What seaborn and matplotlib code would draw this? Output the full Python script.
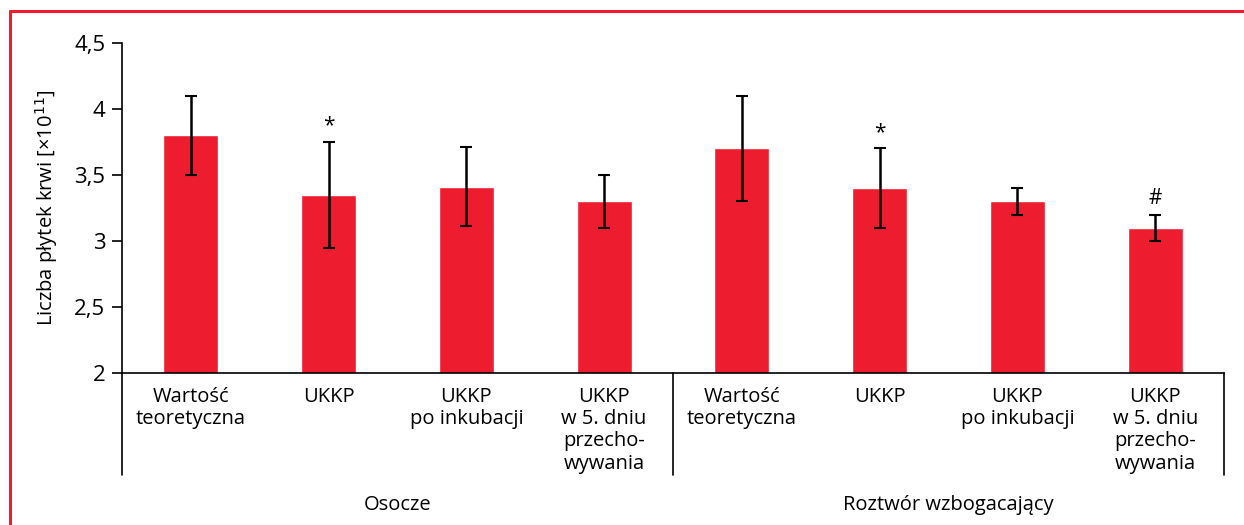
"""
Liczba płytek krwi w UKKP - wykres słupkowy z błędami, dwie grupy.
"""

import numpy as np
import pandas as pd
import matplotlib.pyplot as plt
import matplotlib.transforms as mtransforms
from matplotlib.lines import Line2D
import seaborn as sns

# Dane
etykiety = [
    "Wartość\nteoretyczna", "UKKP", "UKKP\npo inkubacji", "UKKP\nw 5. dniu\nprzecho-\nwywania",
    "Wartość\nteoretyczna", "UKKP", "UKKP\npo inkubacji", "UKKP\nw 5. dniu\nprzecho-\nwywania",
]
grupy = ["Osocze", "Roztwór wzbogacający"]
srednie = [3.80, 3.35, 3.41, 3.30, 3.70, 3.40, 3.30, 3.10]
odchylenia = [0.30, 0.40, 0.30, 0.20, 0.40, 0.30, 0.10, 0.10]
znaczniki = ["", "*", "", "", "", "*", "", "#"]
y_ticks = [2, 2.5, 3, 3.5, 4, 4.5]
y_tick_labels = ["2", "2,5", "3", "3,5", "4", "4,5"]

CZERWONY = "#ED1C2E"

sns.set_theme(style="white")
plt.rcParams["font.family"] = ["Open Sans", "DejaVu Sans"]
plt.rcParams["text.color"] = "black"
plt.rcParams["axes.labelcolor"] = "black"
plt.rcParams["xtick.color"] = "black"
plt.rcParams["ytick.color"] = "black"

df = pd.DataFrame({"poz": np.arange(len(srednie)), "srednia": srednie})

fig = plt.figure(figsize=(12.44, 5.25), dpi=100)
ax = fig.add_axes([0.098, 0.2895, 0.886, 0.629])

sns.barplot(data=df, x="poz", y="srednia", color=CZERWONY, saturation=1,
            width=0.4, errorbar=None, ax=ax)
ax.errorbar(df["poz"], df["srednia"], yerr=odchylenia, fmt="none",
            ecolor="black", elinewidth=1.8, capsize=4.5, capthick=1.5)

for i, m in enumerate(znaczniki):
    if m:
        ax.text(i, srednie[i] + odchylenia[i] + 0.04, m, ha="center", va="bottom",
                fontsize=15, color="black")

ax.set_ylim(2, 4.5)
ax.set_xlim(-0.5, len(srednie) - 0.5)
ax.set_yticks(y_ticks)
ax.set_yticklabels(y_tick_labels, fontsize=16)
ax.set_xticks(df["poz"])
ax.set_xticklabels(etykiety, fontsize=14.5, linespacing=1.15)
ax.tick_params(axis="y", left=True, length=7, width=1.2, color="black", pad=5)
ax.tick_params(axis="x", bottom=False, pad=4)
ax.set_xlabel("")
ax.set_ylabel("Liczba płytek krwi [×10$^{11}$]", fontsize=14.5, labelpad=10)

for s in ["top", "right"]:
    ax.spines[s].set_visible(False)
for s in ["left", "bottom"]:
    ax.spines[s].set_color("black")
    ax.spines[s].set_linewidth(1.2)

# linie oddzielające grupy pod osią X
tr = mtransforms.blended_transform_factory(ax.transData, ax.transAxes)
for x in [-0.5, 3.5, 7.5]:
    ax.add_line(Line2D([x, x], [0, -0.31], transform=tr, color="black",
                       lw=1.2, clip_on=False))
for k, g in enumerate(grupy):
    ax.text(1.5 + 4 * k, -0.40, g, transform=tr, ha="center", va="center",
            fontsize=14.5)

# czerwona ramka (lewa i górna krawędź)
fig.add_artist(Line2D([0.0078, 0.0078], [0, 0.979], transform=fig.transFigure,
                      color=CZERWONY, lw=2.2))
fig.add_artist(Line2D([0.0078, 1.0], [0.979, 0.979], transform=fig.transFigure,
                      color=CZERWONY, lw=2.2))

fig.savefig("out.png", dpi=100, facecolor="white")
plt.close(fig)
